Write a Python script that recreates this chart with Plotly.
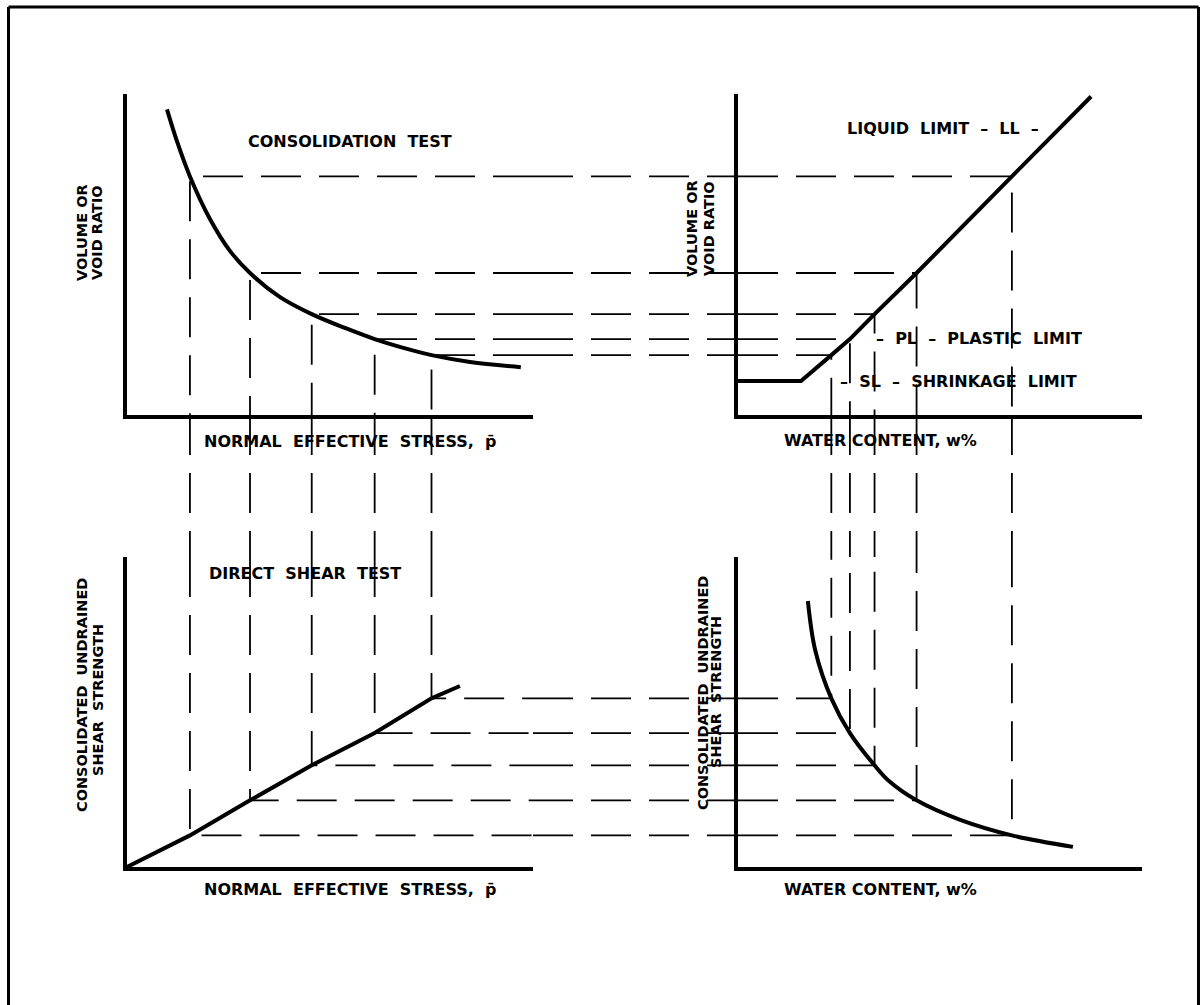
import plotly.graph_objects as go

W, H = 1201, 1005

# the five test states; each one gives a dashed rectangle whose corners sit
# on the four curves
stress = [15.5, 30.3, 45.5, 61.0, 75.0]
void_ratio = [0.773, 0.460, 0.327, 0.246, 0.194]
water = [67.8, 44.2, 33.8, 27.7, 23.1]
strength = [10.2, 21.5, 32.8, 43.2, 54.4]

# consolidation test: void ratio vs normal effective stress
consol_p = [9.85, 12.3, 15.5, 20.4, 25.4, 30.3, 37.7, 45.5, 53.7, 61.0, 68.5, 75.0, 84.5, 97.0]
consol_e = [0.990, 0.887, 0.773, 0.636, 0.531, 0.460, 0.382, 0.327, 0.282, 0.246, 0.216, 0.194, 0.172, 0.155]

# volume vs water content (shrinkage / plastic / liquid limit)
limits_w = [0, 15.6, 23.1, 27.7, 33.8, 44.2, 67.8, 87.4]
limits_e = [0.110, 0.110, 0.194, 0.246, 0.327, 0.460, 0.773, 1.032]

# direct shear test envelope
shear_p = [0, 15.5, 30.3, 45.5, 61.0, 75.0, 82.0]
shear_s = [0, 10.2, 21.5, 32.8, 43.2, 54.4, 58.4]

# undrained shear strength vs water content
cu_w = [17.3, 19.1, 23.1, 27.7, 33.8, 37.3, 44.2, 55.0, 67.8, 82.9]
cu_s = [85.8, 70.0, 54.4, 43.2, 32.8, 27.8, 21.5, 15.2, 10.2, 6.5]

P_RANGE = [0, 100]
W_RANGE = [0, 100]
E_RANGE = [0, 1.04]
S_RANGE = [0, 100]


def px(x):
    return x / W


def py(y):
    return 1 - y / H


col1 = [px(127), px(533)]
col2 = [px(738), px(1142)]
row1 = [py(415), py(94)]
row2 = [py(867), py(557)]

FONT = "DejaVu Sans"
DASH = "40px,18px"


def axis(domain, rng, anchor):
    return dict(domain=domain, range=rng, anchor=anchor, showline=True,
                linewidth=4, linecolor="black", showgrid=False,
                zeroline=False, showticklabels=False, ticks="",
                fixedrange=True)


def spaced(s):
    # keep the wide gaps between words
    return s.replace("  ", "\u00a0 ")


def dashed(xs, ys, xa, ya):
    return go.Scatter(x=xs, y=ys, xaxis=xa, yaxis=ya, mode="lines",
                      line=dict(color="black", width=1.8, dash=DASH),
                      hoverinfo="skip", showlegend=False)


def curve(xs, ys, xa, ya, shape="linear"):
    return go.Scatter(x=xs, y=ys, xaxis=xa, yaxis=ya, mode="lines",
                      line=dict(color="black", width=4, shape=shape),
                      hoverinfo="skip", showlegend=False)


fig = go.Figure()

# dashed connectors inside each panel (L shapes from the curve to the edges)
tl_x, tl_y, tr_x, tr_y, bl_x, bl_y, br_x, br_y = ([] for _ in range(8))
for p, e, w, s in zip(stress, void_ratio, water, strength):
    tl_x += [P_RANGE[1], p, p, None]
    tl_y += [e, e, E_RANGE[0], None]
    tr_x += [W_RANGE[0], w, w, None]
    tr_y += [e, e, E_RANGE[0], None]
    bl_x += [p, p, P_RANGE[1], None]
    bl_y += [S_RANGE[1], s, s, None]
    br_x += [W_RANGE[0], w, w, None]
    br_y += [s, s, S_RANGE[1], None]

fig.add_trace(dashed(tl_x, tl_y, "x", "y"))
fig.add_trace(dashed(tr_x, tr_y, "x2", "y2"))
fig.add_trace(dashed(bl_x, bl_y, "x3", "y3"))
fig.add_trace(dashed(br_x, br_y, "x4", "y4"))

# the curves
fig.add_trace(curve(consol_p, consol_e, "x", "y", "spline"))
fig.add_trace(curve(limits_w, limits_e, "x2", "y2"))
fig.add_trace(curve(shear_p, shear_s, "x3", "y3"))
fig.add_trace(curve(cu_w, cu_s, "x4", "y4", "spline"))

# dashed connectors crossing the gaps between panels
gap_line = dict(color="black", width=1.8, dash=DASH)
for p, w in zip(stress, water):
    fig.add_shape(type="line", xref="x", yref="paper", x0=p, x1=p,
                  y0=row1[0], y1=row2[1], line=gap_line)
    fig.add_shape(type="line", xref="x2", yref="paper", x0=w, x1=w,
                  y0=row1[0], y1=row2[1], line=gap_line)
for e, s in zip(void_ratio, strength):
    fig.add_shape(type="line", xref="paper", yref="y", x0=col1[1], x1=col2[0],
                  y0=e, y1=e, line=gap_line)
    fig.add_shape(type="line", xref="paper", yref="y3", x0=col1[1], x1=col2[0],
                  y0=s, y1=s, line=gap_line)

# outer frame (open at the bottom, where the page is cut)
frame = dict(color="black", width=3)
fl, fr, ft = px(8.5), px(1198.5), py(7)
fig.add_shape(type="line", xref="paper", yref="paper", x0=fl, x1=fl,
              y0=-0.03, y1=ft, line=frame)
fig.add_shape(type="line", xref="paper", yref="paper", x0=fr, x1=fr,
              y0=-0.03, y1=ft, line=frame)
fig.add_shape(type="line", xref="paper", yref="paper", x0=fl, x1=fr,
              y0=ft, y1=ft, line=frame)

labels = [
    ("CONSOLIDATION  TEST", 350, 142),
    ("LIQUID  LIMIT  –  LL  –", 943, 128),
    ("–  PL  –  PLASTIC  LIMIT", 979, 338),
    ("–  SL  –  SHRINKAGE  LIMIT", 958, 381),
    ("DIRECT  SHEAR  TEST", 305, 573),
    ("NORMAL  EFFECTIVE  STRESS,  p\u0304", 350, 442),
    ("WATER CONTENT, w%", 880, 440),
    ("NORMAL  EFFECTIVE  STRESS,  p\u0304", 350, 889),
    ("WATER CONTENT, w%", 880, 889),
]
for text, x, y in labels:
    fig.add_annotation(text=spaced(text), x=px(x), y=py(y), xref="paper",
                       yref="paper", showarrow=False, xanchor="center",
                       yanchor="middle",
                       font=dict(family=FONT, size=16, color="black",
                                 weight="bold"))

vlabels = [
    ("VOLUME OR", 82, 233), ("VOID RATIO", 97, 233),
    ("VOLUME OR", 692, 229), ("VOID RATIO", 709, 229),
    ("CONSOLIDATED  UNDRAINED", 82, 695), ("SHEAR  STRENGTH", 98, 700),
    ("CONSOLIDATED  UNDRAINED", 703, 693), ("SHEAR  STRENGTH", 716, 692),
]
for text, x, y in vlabels:
    fig.add_annotation(text=spaced(text), x=px(x), y=py(y), xref="paper",
                       yref="paper", showarrow=False, textangle=-90,
                       xanchor="center", yanchor="middle",
                       font=dict(family=FONT, size=14.5, color="black",
                                 weight="bold"))

fig.update_layout(
    width=W, height=H,
    margin=dict(l=0, r=0, t=0, b=0),
    paper_bgcolor="white", plot_bgcolor="white",
    showlegend=False,
    xaxis=axis(col1, P_RANGE, "y"),
    yaxis=axis(row1, E_RANGE, "x"),
    xaxis2=axis(col2, W_RANGE, "y2"),
    yaxis2=axis(row1, E_RANGE, "x2"),
    xaxis3=axis(col1, P_RANGE, "y3"),
    yaxis3=axis(row2, S_RANGE, "x3"),
    xaxis4=axis(col2, W_RANGE, "y4"),
    yaxis4=axis(row2, S_RANGE, "x4"),
)

# drop the default page margin so the figure fills the window exactly
fig.write_html("out.html", config={"displayModeBar": False},
               post_script="document.body.style.margin='0';"
                           "document.body.style.overflow='hidden';")
